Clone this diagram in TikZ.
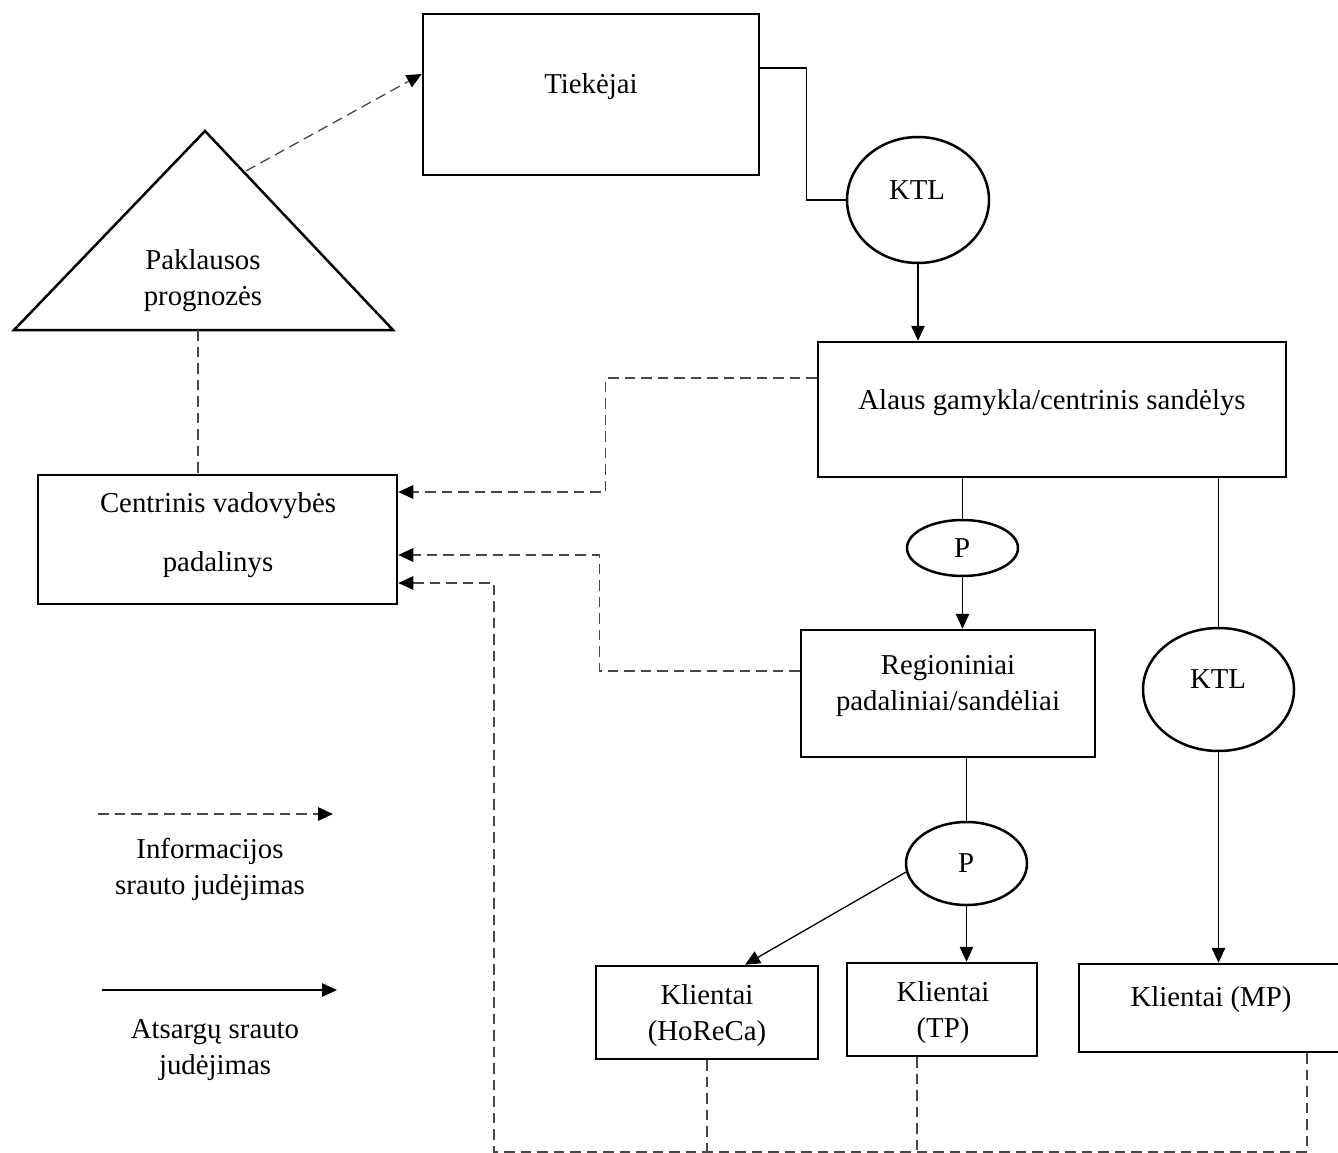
\documentclass[tikz,border=0pt]{standalone}
\usepackage{fontspec}
\setmainfont{Liberation Serif}
\usetikzlibrary{arrows.meta,shapes.geometric}

\tikzset{
  box/.style={draw, rectangle, line width=2.5pt, inner sep=0pt},
  oval/.style={draw, ellipse, line width=2.5pt, inner sep=0pt},
  lbl/.style={anchor=base, align=center, inner sep=0pt,
              font=\fontsize{28.8}{36}\selectfont},
  flow/.style={line width=1.3pt, black},
  info/.style={line width=1.3pt, draw=black!72, dash pattern=on 10.5pt off 6pt},
  tip/.style={-{Triangle[length=15pt,width=13.5pt,color=black]}},
}

\begin{document}
\begin{tikzpicture}[x=1pt, y=-1pt]
  \useasboundingbox (0,0) rectangle (1338,1153);

  % --- boxes and ovals ---
  \node[box, minimum width=336pt, minimum height=161pt] (tiek)   at (591,94.5)  {};
  \node[box, minimum width=468pt, minimum height=135pt] (alaus)  at (1052,409.5) {};
  \node[box, minimum width=359pt, minimum height=129pt] (centr)  at (217.5,539.5) {};
  \node[box, minimum width=294pt, minimum height=127pt] (reg)    at (948,693.5) {};
  \node[box, minimum width=222pt, minimum height=93pt]  (horeca) at (707,1012.5) {};
  \node[box, minimum width=190pt, minimum height=93pt]  (tp)     at (942,1009.5) {};
  \node[box, minimum width=268pt, minimum height=88pt]  (mp)     at (1213,1008) {};

  \node[oval, minimum width=142pt, minimum height=126pt] (ktlA) at (918,200) {};
  \node[oval, minimum width=111pt, minimum height=56pt]  (pA)   at (962.5,548) {};
  \node[oval, minimum width=151pt, minimum height=123pt] (ktlB) at (1218.5,689.5) {};
  \node[oval, minimum width=121pt, minimum height=83pt]  (pB)   at (966.5,863.5) {};

  % demand forecast triangle
  \coordinate (apex) at (205,131);
  \coordinate (triL) at (14,330);
  \coordinate (triR) at (393,330);
  \draw[line width=2.5pt, line join=miter] (apex) -- (triR) -- (triL) -- cycle;
  \coordinate (triSide) at (246,171);
  \coordinate (triBase) at (198,330);

  % --- labels (multi-line labels sit on their last baseline) ---
  \node[lbl] (tTiek) at (591,93.5) {Tiekėjai};
  \node[lbl] (tPakl) at (203,305) {Paklausos\\prognozės};
  \node[lbl] (tKtlA) at (917,199) {KTL};
  \node[lbl] (tAlaus) at (1052,409) {Alaus gamykla/centrinis sandėlys};
  \node[lbl] (tCentr) at (218,571) {Centrinis vadovybės\\[23pt]padalinys};
  \node[lbl] (tPA) at (962,557) {P};
  \node[lbl] (tReg) at (948,710) {Regioniniai\\padaliniai/sandėliai};
  \node[lbl] (tKtlB) at (1218,688) {KTL};
  \node[lbl] (tPB) at (966,872) {P};
  \node[lbl] (tHoreca) at (707,1040) {Klientai\\(HoReCa)};
  \node[lbl] (tTp) at (943,1037) {Klientai\\(TP)};
  \node[lbl] (tMp) at (1211,1006) {Klientai (MP)};
  \node[lbl] (tInfo) at (210,894) {Informacijos\\srauto judėjimas};
  \node[lbl] (tStock) at (215,1074) {Atsargų srauto\\judėjimas};

  % --- stock flows (solid) ---
  \draw[flow] ([yshift=26.5pt]tiek.east) -- ++(46,0) |- (ktlA.west);
  \draw[flow, tip] (ktlA.south) -- (ktlA.south |- alaus.north);
  \draw[flow] (pA.north |- alaus.south) -- (pA.north);
  \draw[flow, tip] (pA.south) -- (pA.south |- reg.north);
  \draw[flow] (ktlB.north |- alaus.south) -- (ktlB.north);
  \draw[flow, tip] (ktlB.south) -- (ktlB.south |- mp.north);
  \draw[flow] (pB.north |- reg.south) -- (pB.north);
  \draw[flow, tip] (pB.south) -- (pB.south |- tp.north);
  \draw[flow, tip] (pB.188) -- ([xshift=38pt]horeca.north);

  % --- information flows (dashed) ---
  \draw[info, tip] (triSide) -- ([yshift=20.5pt]tiek.west);
  \draw[info] (triBase) -- (triBase |- centr.north);
  \draw[info, tip] ([yshift=31.5pt]alaus.west) -- ++(-211,0) |- ([yshift=47.5pt]centr.east);
  \draw[info, tip] ([yshift=22.5pt]reg.west) -- ++(-200,0) |- ([yshift=-15.5pt]centr.east);

  \coordinate (busL) at (494,1152);
  \draw[info] (horeca.south) -- (horeca.south |- busL);
  \draw[info] ([xshift=-25pt]tp.south) -- ([xshift=-25pt]tp.south |- busL);
  \draw[info, tip] ([xshift=94pt]mp.south) |- (busL) |- ([yshift=-43.5pt]centr.east);

  % --- legend ---
  \coordinate (legInfoA) at (98,814);
  \coordinate (legInfoB) at (333,814);
  \coordinate (legStockA) at (102,990);
  \coordinate (legStockB) at (337,990);
  \draw[info, tip] (legInfoA) -- (legInfoB);
  \draw[flow, tip] (legStockA) -- (legStockB);
\end{tikzpicture}
\end{document}
